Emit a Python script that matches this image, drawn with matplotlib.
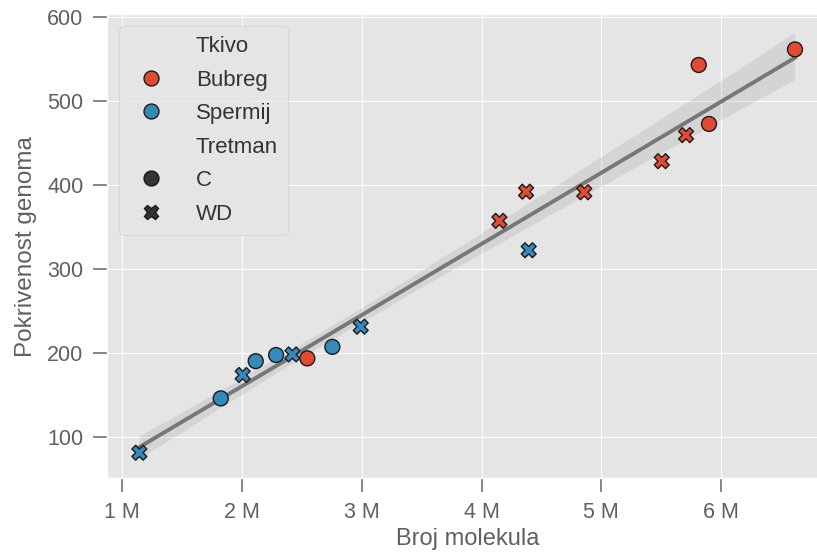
import matplotlib
matplotlib.use("Agg")
import matplotlib.pyplot as plt
from matplotlib.ticker import EngFormatter
import pandas as pd
import seaborn as sns

plt.style.use('ggplot')
plt.rcParams['font.family'] = ['Liberation Sans', 'DejaVu Sans']

# broj molekula (u milijunima) i pokrivenost genoma po uzorku
molekule = [1.142, 2.005, 2.420, 2.991, 4.394,
            1.822, 2.114, 2.284, 2.754,
            2.545, 5.814, 5.900, 6.618,
            4.149, 4.372, 4.858, 5.505, 5.708]
pokrivenost = [81, 173.5, 198, 231, 322,
               145.7, 190, 197.3, 207,
               193.3, 542.5, 472.3, 561,
               357, 391.7, 391, 428, 459]
tkivo = ['Spermij'] * 9 + ['Bubreg'] * 9
tretman = ['WD'] * 5 + ['C'] * 4 + ['C'] * 4 + ['WD'] * 5

df = pd.DataFrame({
    'Broj molekula': [m * 1e6 for m in molekule],
    'Pokrivenost genoma': pokrivenost,
    'Tkivo': tkivo,
    'Tretman': tretman,
})

fig = plt.figure(figsize=(8.17, 5.54), dpi=100)
ax = fig.add_axes([0.131, 0.137, 0.8825, 0.8375])

sns.regplot(data=df, x='Broj molekula', y='Pokrivenost genoma', scatter=False,
            color='#777777', seed=3, line_kws={'lw': 2.8}, ax=ax)
sns.scatterplot(data=df, x='Broj molekula', y='Pokrivenost genoma',
                hue='Tkivo', style='Tretman',
                hue_order=['Bubreg', 'Spermij'], style_order=['C', 'WD'],
                palette=['#E24A33', '#348ABD'], s=115,
                edgecolor='#1a1a1a', linewidth=1.0, ax=ax, zorder=3)

ax.xaxis.set_major_formatter(EngFormatter(places=0))
ax.set_xlim(0.872e6, 6.894e6)
ax.set_ylim(50.8, 603)
ax.set_yticks([100, 200, 300, 400, 500, 600])

ax.tick_params(axis='both', labelsize=15.5, labelcolor='#606060',
               color='#666666', length=10, width=1.1, pad=7)
ax.set_xlabel('Broj molekula', fontsize=17, color='#606060', labelpad=4)
ax.set_ylabel('Pokrivenost genoma', fontsize=17.5, color='#606060', labelpad=7)

handles, labels = ax.get_legend_handles_labels()
leg = ax.legend(handles, labels, loc='upper left', fontsize=16,
                labelspacing=0.56, handletextpad=1.0, borderpad=0.45,
                borderaxespad=0.55, markerscale=1.0)
for t in leg.get_texts():
    t.set_color('#333333')

fig.savefig('out.png', dpi=100)
